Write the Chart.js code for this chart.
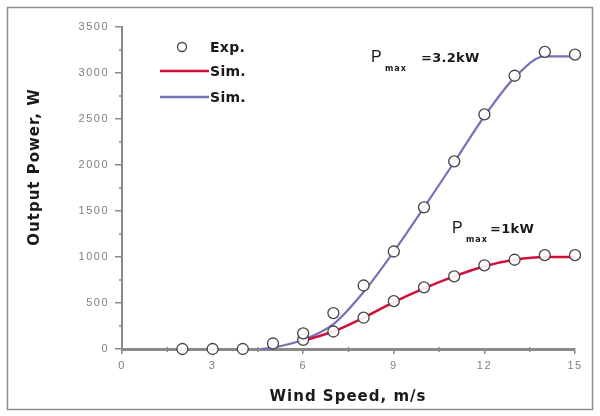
<!DOCTYPE html>
<html>
<head>
<meta charset="utf-8">
<script src="https://cdn.jsdelivr.net/npm/chart.js@4/dist/chart.umd.min.js"></script>
<style>
  html, body { margin: 0; padding: 0; background: #fff; }
  #wrap { width: 600px; height: 416px; position: relative; }
</style>
</head>
<body>
<div id="wrap"><canvas id="myChart" width="600" height="416"></canvas></div>
<script>
// wind speed (m/s) for measured points
const expSpeed = [2, 3, 4, 5, 6, 7, 8, 9, 10, 11, 12, 13, 14, 15]
const expPower32 = [0, 0, 0, 60, 170, 390, 690, 1060, 1540, 2040, 2550, 2970, 3230, 3200]
const expSpeed1 = [6, 7, 8, 9, 10, 11, 12, 13, 14, 15]
const expPower1 = [100, 190, 340, 520, 670, 790, 910, 970, 1020, 1020]

// simulated curves
const simSpeed32 = [4.6, 5, 6, 7, 8, 9, 10, 11, 12, 13, 14, 15]
const simPower32 = [0, 15, 100, 270, 620, 1060, 1540, 2030, 2530, 2950, 3180, 3180]
const simSpeed1 = [6, 7, 8, 9, 10, 11, 12, 13, 14, 15]
const simPower1 = [90, 190, 340, 510, 660, 790, 900, 970, 1000, 1000]

const xTicks = [0, 3, 6, 9, 12, 15]
const yTicks = [0, 500, 1000, 1500, 2000, 2500, 3000, 3500]

const toPts = (xs, ys) => xs.map((x, i) => ({x: x, y: ys[i]}))

const RED = '#d0103a'
const BLUE = '#7373b8'
const AXIS = '#8a8a8a'
const FONT = '"Liberation Sans", Arial, sans-serif'
const BOLD = '"DejaVu Sans", sans-serif'

const expStyle = {
  showLine: false,
  pointStyle: 'circle',
  pointRadius: 5.5,
  pointBorderWidth: 1.3,
  pointBorderColor: '#444',
  pointBackgroundColor: 'rgba(255,255,255,0.9)',
  order: 0
}

const decor = {
  id: 'decor',
  beforeDraw(chart) {
    // wide-spaced tick digits like the scanned figure
    chart.ctx.letterSpacing = '1.5px'
  },
  afterDraw(chart) {
    const ctx = chart.ctx
    const xs = chart.scales.x, ys = chart.scales.y
    ctx.save()
    ctx.letterSpacing = '0px'
    // outer frame
    ctx.strokeStyle = '#8c8c8c'
    ctx.lineWidth = 1.5
    ctx.strokeRect(7.5, 7.5, 585, 402)

    // minor ticks
    ctx.strokeStyle = AXIS
    ctx.lineWidth = 1.5
    for (let v = 250; v < 3500; v += 500) {
      const y = ys.getPixelForValue(v)
      ctx.beginPath(); ctx.moveTo(xs.left - 3, y); ctx.lineTo(xs.left, y); ctx.stroke()
    }
    for (let v = 1.5; v < 15; v += 3) {
      const x = xs.getPixelForValue(v)
      ctx.beginPath(); ctx.moveTo(x, ys.bottom - 2); ctx.lineTo(x, ys.bottom + 3); ctx.stroke()
    }

    // axis titles
    ctx.fillStyle = '#1a1a1a'
    ctx.font = 'bold 15px ' + BOLD
    ctx.letterSpacing = '1px'
    ctx.textAlign = 'center'
    ctx.textBaseline = 'middle'
    ctx.fillText('Wind Speed, m/s', 348, 397)
    ctx.save()
    ctx.translate(35, 167)
    ctx.rotate(-Math.PI / 2)
    ctx.fillText('Output Power, W', 0, 0)
    ctx.restore()

    // legend
    ctx.textAlign = 'left'
    ctx.font = 'bold 14px ' + BOLD
    ctx.letterSpacing = '0.3px'
    ctx.beginPath()
    ctx.arc(182, 47, 4.5, 0, Math.PI * 2)
    ctx.strokeStyle = '#444'; ctx.lineWidth = 1.3; ctx.stroke()
    ctx.fillStyle = '#1a1a1a'
    ctx.fillText('Exp.', 210, 48)
    ctx.lineWidth = 2.5
    ctx.strokeStyle = RED
    ctx.beginPath(); ctx.moveTo(160, 71); ctx.lineTo(209, 71); ctx.stroke()
    ctx.fillText('Sim.', 210, 72)
    ctx.strokeStyle = BLUE
    ctx.beginPath(); ctx.moveTo(160, 97); ctx.lineTo(209, 97); ctx.stroke()
    ctx.fillText('Sim.', 210, 98)

    // annotations
    const pmax = (x, y, gap, rest) => {
      ctx.letterSpacing = '0px'
      ctx.font = '16px ' + FONT
      ctx.fillText('P', x, y)
      ctx.font = 'bold 8px ' + BOLD
      ctx.letterSpacing = '1px'
      ctx.fillText('max', x + 14, y + 11)
      ctx.font = 'bold 13px ' + BOLD
      ctx.letterSpacing = '0.3px'
      ctx.fillText(rest, x + gap, y + 1)
    }
    pmax(371, 58, 50, '=3.2kW')
    pmax(452, 229, 38, '=1kW')
    ctx.restore()
  }
}

new Chart(document.getElementById('myChart').getContext('2d'), {
  type: 'scatter',
  data: {
    datasets: [
      Object.assign({label: 'Exp.', data: toPts(expSpeed, expPower32)}, expStyle),
      Object.assign({label: 'Exp. 1kW', data: toPts(expSpeed1, expPower1)}, expStyle),
      {
        label: 'Sim.',
        data: toPts(simSpeed1, simPower1),
        showLine: true,
        borderColor: RED,
        borderWidth: 2.5,
        pointRadius: 0,
        cubicInterpolationMode: 'monotone',
        order: 1
      },
      {
        label: 'Sim. 3.2kW',
        data: toPts(simSpeed32, simPower32),
        showLine: true,
        borderColor: BLUE,
        borderWidth: 2.2,
        pointRadius: 0,
        cubicInterpolationMode: 'monotone',
        order: 2
      }
    ]
  },
  options: {
    responsive: false,
    animation: false,
    clip: false,
    layout: {padding: {left: 0, right: 25, top: 27, bottom: 0}},
    plugins: {legend: {display: false}, tooltip: {enabled: false}},
    scales: {
      x: {
        type: 'linear', min: 0, max: 15,
        afterFit: (s) => { s.height = 67 },
        afterBuildTicks: (s) => { s.ticks = xTicks.map(v => ({value: v})) },
        border: {color: AXIS, width: 3},
        grid: {drawOnChartArea: false, color: AXIS, lineWidth: 1.5, tickLength: 5},
        ticks: {color: '#808080', font: {family: FONT, size: 11}, padding: 5,
                callback: (v) => String(v)}
      },
      y: {
        type: 'linear', min: 0, max: 3500,
        afterFit: (s) => { s.width = 122 },
        afterBuildTicks: (s) => { s.ticks = yTicks.map(v => ({value: v})) },
        border: {color: AXIS, width: 2},
        grid: {drawOnChartArea: false, color: AXIS, lineWidth: 1.5, tickLength: 7},
        ticks: {color: '#808080', font: {family: FONT, size: 11}, padding: 6,
                callback: (v) => String(v)}
      }
    }
  },
  plugins: [decor]
})
</script>
</body>
</html>
